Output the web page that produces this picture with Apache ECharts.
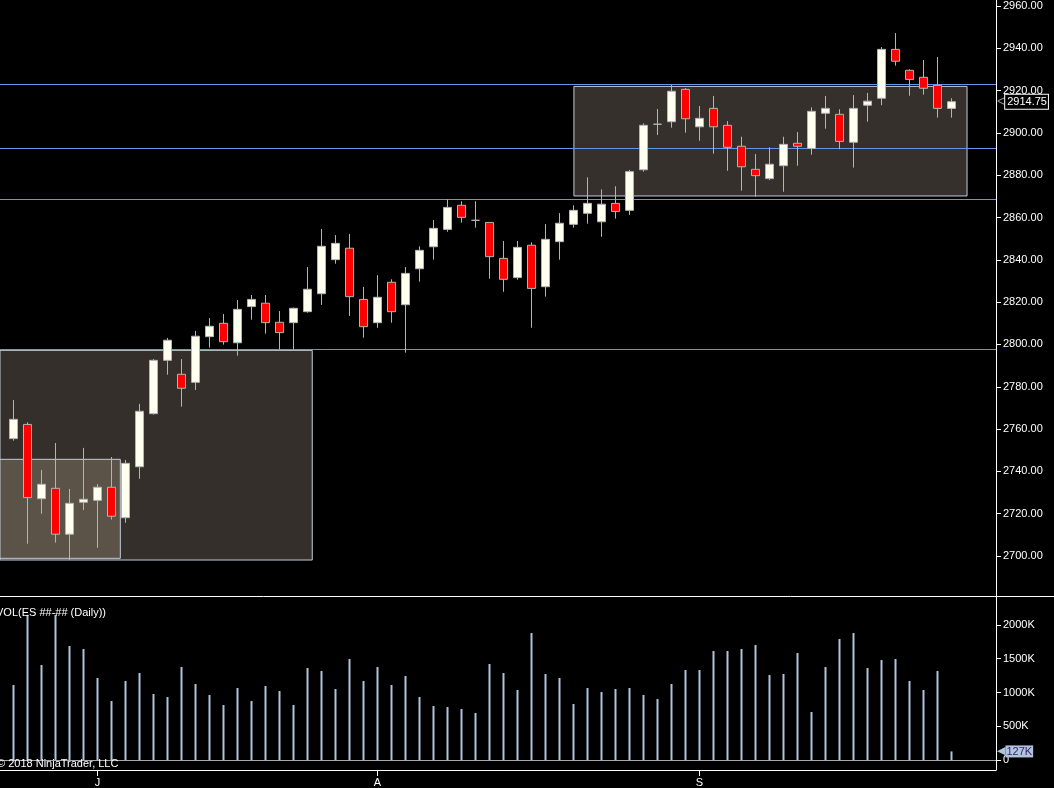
<!DOCTYPE html>
<html>
<head>
<meta charset="utf-8">
<script src="https://cdn.jsdelivr.net/npm/echarts@6/dist/echarts.min.js"></script>
<style>
html,body{margin:0;padding:0;background:#000;}
#c{width:1054px;height:788px;}
</style>
</head>
<body>
<div id="c"></div>
<script>
// ---- data ----
const openP  = [2755.5,2762.2,2727.1,2732.0,2710.3,2725.4,2726.3,2732.5,2718.1,2742.2,
                2767.3,2792.5,2785.9,2782.1,2803.7,2810.0,2800.8,2817.9,2819.5,2810.5,
                2810.3,2815.5,2824.0,2840.1,2845.5,2821.3,2810.3,2829.4,2818.8,2835.8,
                2846.2,2854.4,2865.8,2858.7,2857.7,2840.7,2831.6,2846.9,2827.3,2848.6,
                2856.8,2862.0,2858.0,2866.7,2863.4,2882.6,2904.1,2905.3,2920.6,2902.9,
                2911.6,2903.6,2893.7,2882.8,2878.4,2884.5,2895.1,2892.7,2909.3,2908.8,
                2895.6,2913.1,2916.4,2939.5,2929.6,2926.3,2922.5,2911.6];
const closeP = [2764.6,2727.6,2733.9,2710.3,2724.9,2726.8,2732.5,2718.8,2743.8,2768.4,
                2792.5,2802.0,2779.3,2803.9,2808.6,2801.3,2816.6,2821.3,2810.3,2805.6,
                2817.1,2826.1,2846.4,2847.8,2822.6,2808.4,2822.3,2815.5,2833.6,2844.5,
                2854.9,2864.8,2860.1,2858.7,2841.5,2830.8,2845.9,2826.5,2849.7,2857.3,
                2863.4,2866.7,2866.3,2862.9,2881.7,2903.6,2904.1,2919.7,2906.7,2906.9,
                2902.9,2893.2,2884.0,2879.8,2885.2,2894.6,2893.7,2910.2,2911.6,2896.0,
                2911.6,2915.0,2939.5,2933.9,2925.3,2921.1,2911.6,2914.75];
const lowP   = [2754.5,2705.8,2720.0,2706.3,2698.1,2721.7,2703.9,2717.2,2715.7,2736.5,
                2766.8,2785.7,2770.6,2778.5,2798.5,2799.9,2794.7,2811.7,2805.1,2797.7,
                2797.7,2815.0,2818.7,2838.2,2813.5,2803.2,2807.9,2810.3,2796.1,2829.7,
                2840.1,2853.3,2857.6,2855.2,2831.1,2824.9,2830.6,2807.9,2822.6,2840.1,
                2855.2,2857.1,2850.9,2859.5,2861.3,2881.7,2899.0,2902.5,2900.1,2896.3,
                2890.2,2882.1,2872.7,2869.9,2877.7,2872.2,2884.5,2889.7,2902.0,2892.3,
                2883.6,2905.3,2913.1,2931.8,2917.6,2918.1,2907.2,2907.2];
const highP  = [2773.7,2763.2,2740.7,2753.4,2731.7,2751.1,2734.0,2746.8,2745.4,2771.9,
                2793.1,2803.1,2793.1,2806.4,2812.5,2814.4,2821.0,2823.4,2823.4,2815.8,
                2817.4,2836.6,2854.6,2851.7,2852.2,2827.2,2832.8,2830.8,2836.6,2846.4,
                2858.8,2868.6,2867.7,2867.7,2857.7,2848.9,2848.9,2848.3,2856.9,2862.1,
                2865.8,2879.0,2873.3,2874.8,2882.5,2904.5,2911.3,2922.7,2921.2,2912.7,
                2917.5,2905.6,2898.2,2890.0,2893.2,2898.2,2900.4,2912.1,2917.5,2911.2,
                2917.9,2918.9,2940.6,2947.2,2930.1,2934.5,2935.9,2916.4];
const volumeK = [1111,2150,1407,2150,1689,1644,1215,874,1170,1289,
                 978,933,1378,1126,963,815,1067,874,1096,1022,
                 815,1363,1319,1052,1496,1170,1378,1111,1244,933,
                 800,785,756,696,1422,1289,1037,1881,1274,1215,
                 830,1067,1007,1052,1067,963,904,1126,1333,1333,
                 1615,1615,1644,1704,1259,1274,1585,711,1378,1793,
                 1881,1363,1481,1496,1170,1037,1319,127];
const monthLabels   = ['J','A','S'];
const monthStartIdx = [6,26,49];
const priceTicks = [2700,2720,2740,2760,2780,2800,2820,2840,2860,2880,2900,2920,2940,2960];
const volTicks   = [0,500,1000,1500,2000];
const levelLines = [2922.9,2892.65,2868.55,2797.6];
// zones: [startIndex, topPrice, endIndex, bottomPrice]
const zoneBig   = [-2, 2797.2, 21.34, 2698.1];
const zoneSmall = [-2, 2745.7, 7.63, 2698.9];
const zoneRight = [40.03, 2922.0, 68.11, 2870.2];
const lastPrice = 2914.75;
const lastVolK  = 127;

// ---- chart ----
const FONT = 'Arial, "Liberation Sans", sans-serif';
const xMin = -0.9643, xMax = 70.1786;
const candleData = openP.map((o,i)=>[i,o,closeP[i],lowP[i],highP[i]]);
const volData = volumeK.map((v,i)=>[i,v]);
const zoneStyle = (fill)=>({color:fill,borderColor:'#c4ccd8',borderWidth:1});
const zonePair = (z,fill)=>[{xAxis:z[0],yAxis:z[1],itemStyle:zoneStyle(fill)},{xAxis:z[2],yAxis:z[3]}];

const chart = echarts.init(document.getElementById('c'));
chart.setOption({
  backgroundColor:'#000',
  animation:false,
  textStyle:{fontFamily:FONT},
  grid:[
    {left:0,top:0,width:996,height:596},
    {left:0,top:597,width:996,height:173}
  ],
  xAxis:[
    {type:'value',gridIndex:0,min:xMin,max:xMax,show:false,splitLine:{show:false}},
    {type:'value',gridIndex:1,min:xMin,max:xMax,
     axisLine:{show:true,onZero:false,lineStyle:{color:'#fff',width:1}},
     axisTick:{show:true,customValues:monthStartIdx,length:6,lineStyle:{color:'#fff'}},
     axisLabel:{show:true,customValues:monthStartIdx,
       formatter:v=>monthLabels[monthStartIdx.indexOf(v)],
       color:'#fff',fontSize:11,margin:7,fontFamily:FONT},
     splitLine:{show:false}}
  ],
  yAxis:[
    {type:'value',gridIndex:0,position:'right',min:2681.09,max:2962.84,
     axisLine:{show:true,onZero:false,lineStyle:{color:'#fff'}},
     axisTick:{show:true,customValues:priceTicks,length:5,lineStyle:{color:'#fff'}},
     axisLabel:{show:true,customValues:priceTicks,formatter:v=>v.toFixed(2),
       color:'#fff',fontSize:11,margin:7,fontFamily:FONT},
     splitLine:{show:false}},
    {type:'value',gridIndex:1,position:'right',min:-148.15,max:2414.8,
     axisLine:{show:true,onZero:false,lineStyle:{color:'#fff'}},
     axisTick:{show:true,customValues:volTicks,length:5,lineStyle:{color:'#fff'}},
     axisLabel:{show:true,customValues:volTicks,formatter:v=>v===0?'0':v+'K',
       color:'#fff',fontSize:11,margin:7,fontFamily:FONT},
     splitLine:{show:false}}
  ],
  series:[
    {type:'line',name:'zones',xAxisIndex:0,yAxisIndex:0,data:[],silent:true,z:1,
     markArea:{silent:true,
       data:[zonePair(zoneBig,'#342f2b'),zonePair(zoneSmall,'#5b5248'),zonePair(zoneRight,'#35302c')]}},
    {type:'line',name:'levels',xAxisIndex:0,yAxisIndex:0,data:[],silent:true,z:2,
     markLine:{silent:true,symbol:['none','none'],label:{show:false},
       lineStyle:{color:'#6495ed',width:1,type:'solid'},
       data:levelLines.map(v=>({yAxis:v}))}},
    {type:'candlestick',name:'ES',xAxisIndex:0,yAxisIndex:0,data:candleData,barWidth:8,z:5,
     itemStyle:{color:'#fffff0',color0:'#ff0000',borderColor:'#b4b4b4',borderColor0:'#b4b4b4',
       borderColorDoji:'#b4b4b4',borderWidth:1},
     markLine:{silent:true,symbol:['none','none'],
       data:[{yAxis:lastPrice,lineStyle:{color:'rgba(0,0,0,0)',width:0},
         label:{show:true,position:'end',distance:1,
           formatter:'{a|<}{b|'+lastPrice.toFixed(2)+'}',
           rich:{a:{color:'#8c8c8c',fontSize:14,fontFamily:FONT},
                 b:{color:'#fff',fontSize:11,fontFamily:FONT,backgroundColor:'#000',
                    borderColor:'#fff',borderWidth:1,padding:[2,1,1,2]}}}}]}},
    {type:'bar',name:'VOL',xAxisIndex:1,yAxisIndex:1,data:volData,barWidth:2,z:3,
     itemStyle:{color:'#b0c4de'},
     markLine:{silent:true,symbol:['none','none'],
       data:[
         {yAxis:0,lineStyle:{color:'#a8a8a8',width:1,type:'solid'},label:{show:false}},
         {yAxis:lastVolK,lineStyle:{color:'rgba(0,0,0,0)',width:0},
          label:{show:true,position:'end',distance:1,
            formatter:'{a|◀}{b|'+lastVolK+'K}',
            rich:{a:{color:'#b0c4de',fontSize:11,fontFamily:'DejaVu Sans'},
                  b:{color:'#3b2470',fontSize:11,fontFamily:FONT,backgroundColor:'#b0c4de',
                     padding:[1,1,0,1]}}}}
       ]}}
  ],
  graphic:[
    {type:'line',shape:{x1:0,y1:596.5,x2:1054,y2:596.5},style:{stroke:'#fff',lineWidth:1},z:100,silent:true},
    {type:'text',x:-4,y:613,style:{text:'VOL(ES ##-## (Daily))',fill:'#fff',font:'11px '+FONT,verticalAlign:'middle'},z:100,silent:true},
    {type:'text',x:-3,y:764,style:{text:'© 2018 NinjaTrader, LLC',fill:'#fff',font:'11px '+FONT,verticalAlign:'middle'},z:100,silent:true}
  ]
});
</script>
</body>
</html>
